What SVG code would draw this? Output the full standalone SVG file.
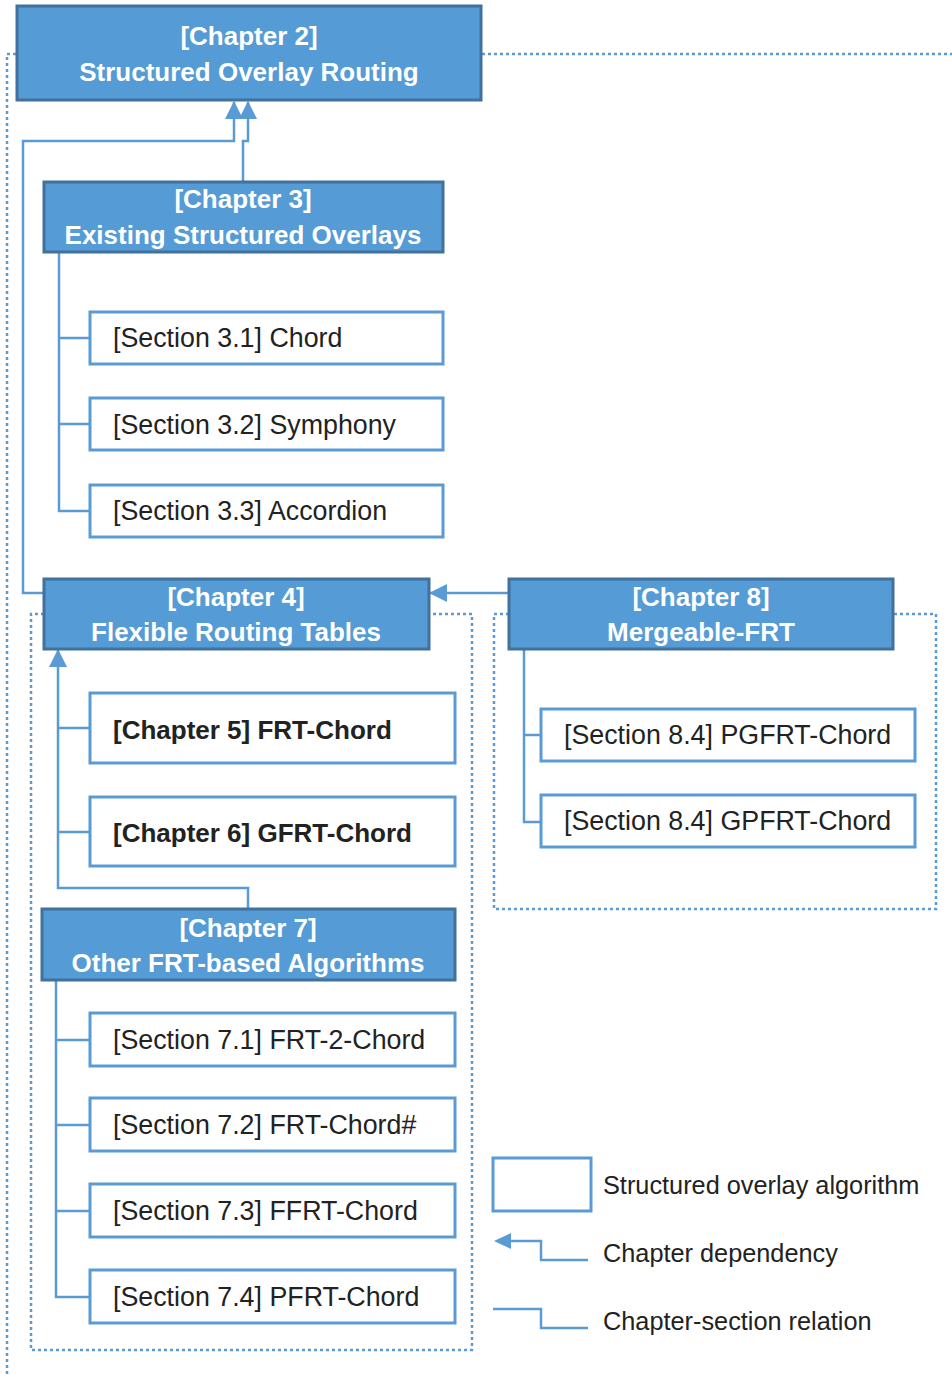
<svg xmlns="http://www.w3.org/2000/svg" width="952" height="1377" viewBox="0 0 952 1377">
<style>
.ch{fill:#559BD5;stroke:#41719C;stroke-width:3}
.sec{fill:#fff;stroke:#5B9BD5;stroke-width:3}
.ct{font-family:"Liberation Sans",Arial,sans-serif;font-weight:bold;font-size:26px;fill:#fff;text-anchor:middle}
.st{font-family:"Liberation Sans",Arial,sans-serif;font-size:26.8px;fill:#222}
.bt{font-family:"Liberation Sans",Arial,sans-serif;font-weight:bold;font-size:26px;fill:#222}
.lt{font-family:"Liberation Sans",Arial,sans-serif;font-size:25.3px;fill:#222}
.ln{fill:none;stroke:#5B9BD5;stroke-width:2.5}
.dot{fill:none;stroke:#5B9BD5;stroke-width:2.5;stroke-dasharray:3 3}
</style>
<defs>
<marker id="ah" markerUnits="userSpaceOnUse" markerWidth="18" markerHeight="18" viewBox="0 0 18 18" refX="17" refY="9" orient="auto">
<path d="M0,0 L18,9 L0,18 z" fill="#5B9BD5"/>
</marker>
</defs>
<rect width="952" height="1377" fill="#fff"/>
<g id="groups">
<path class="dot" d="M16,54 H7 V1377"/>
<path class="dot" d="M482,54 H952"/>
<path class="dot" d="M44,614 H31 V1350 H472 V614 H429"/>
<path class="dot" d="M509,614 H494 V909 H936 V614 H893"/>
</g>
<g id="connectors">
<path class="ln" d="M44,593 H23 V141 H234 V102" marker-end="url(#ah)"/>
<path class="ln" d="M243,181 V141 H248 V102" marker-end="url(#ah)"/>
<path class="ln" d="M509,593 H430" marker-end="url(#ah)"/>
<path class="ln" d="M248,909 V888 H58 V650" marker-end="url(#ah)"/>
<path class="ln" d="M58,728 H90 M58,832 H90"/>
<path class="ln" d="M59,252 V511 H90 M59,338 H90 M59,424 H90"/>
<path class="ln" d="M524,649 V822 H541 M524,735 H541"/>
<path class="ln" d="M56,980 V1297 H90 M56,1040 H90 M56,1125 H90 M56,1211 H90"/>
</g>
<g id="ch2"><rect class="ch" x="17" y="6" width="464" height="94"/>
<text class="ct" x="249" y="45">[Chapter 2]</text><text class="ct" x="249" y="81">Structured Overlay Routing</text></g>
<g id="ch3"><rect class="ch" x="44" y="182" width="399" height="70"/>
<text class="ct" x="243" y="208">[Chapter 3]</text><text class="ct" x="243" y="244">Existing Structured Overlays</text></g>
<g id="s31"><rect class="sec" x="90" y="312" width="353" height="52"/><text class="st" x="113" y="347">[Section 3.1] Chord</text></g>
<g id="s32"><rect class="sec" x="90" y="398" width="353" height="52"/><text class="st" x="113" y="434">[Section 3.2] Symphony</text></g>
<g id="s33"><rect class="sec" x="90" y="485" width="353" height="52"/><text class="st" x="113" y="520">[Section 3.3] Accordion</text></g>
<g id="ch4"><rect class="ch" x="44" y="579" width="385" height="70"/>
<text class="ct" x="236" y="606">[Chapter 4]</text><text class="ct" x="236" y="641">Flexible Routing Tables</text></g>
<g id="ch8"><rect class="ch" x="509" y="579" width="384" height="70"/>
<text class="ct" x="701" y="606">[Chapter 8]</text><text class="ct" x="701" y="641">Mergeable-FRT</text></g>
<g id="s84a"><rect class="sec" x="541" y="709" width="374" height="52"/><text class="st" x="564" y="744">[Section 8.4] PGFRT-Chord</text></g>
<g id="s84b"><rect class="sec" x="541" y="795" width="374" height="52"/><text class="st" x="564" y="830">[Section 8.4] GPFRT-Chord</text></g>
<g id="ch5"><rect class="sec" x="90" y="693" width="365" height="70"/><text class="bt" x="113" y="739">[Chapter 5] FRT-Chord</text></g>
<g id="ch6"><rect class="sec" x="90" y="797" width="365" height="69"/><text class="bt" x="113" y="842">[Chapter 6] GFRT-Chord</text></g>
<g id="ch7"><rect class="ch" x="42" y="909" width="413" height="71"/>
<text class="ct" x="248" y="937">[Chapter 7]</text><text class="ct" x="248" y="972">Other FRT-based Algorithms</text></g>
<g id="s71"><rect class="sec" x="90" y="1013" width="365" height="53"/><text class="st" x="113" y="1049">[Section 7.1] FRT-2-Chord</text></g>
<g id="s72"><rect class="sec" x="90" y="1098" width="365" height="53"/><text class="st" x="113" y="1134">[Section 7.2] FRT-Chord#</text></g>
<g id="s73"><rect class="sec" x="90" y="1184" width="365" height="53"/><text class="st" x="113" y="1220">[Section 7.3] FFRT-Chord</text></g>
<g id="s74"><rect class="sec" x="90" y="1270" width="365" height="53"/><text class="st" x="113" y="1306">[Section 7.4] PFRT-Chord</text></g>
<g id="legend">
<rect class="sec" x="493" y="1158" width="98" height="53"/>
<text class="lt" x="603" y="1194">Structured overlay algorithm</text>
<path class="ln" d="M588,1260 H541 V1241 H510"/>
<path d="M494,1241 L511,1233 L511,1249 z" fill="#5B9BD5"/>
<text class="lt" x="603" y="1262">Chapter dependency</text>
<path class="ln" d="M493,1309 H541 V1328 H588"/>
<text class="lt" x="603" y="1330">Chapter-section relation</text>
</g>
</svg>
